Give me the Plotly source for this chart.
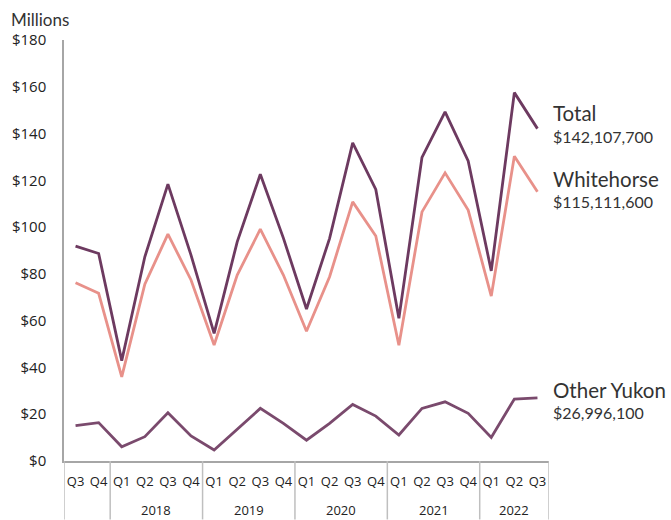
import plotly.graph_objects as go

years = ["", "", "2018", "2018", "2018", "2018", "2019", "2019", "2019", "2019",
         "2020", "2020", "2020", "2020", "2021", "2021", "2021", "2021", "2022", "2022", "2022"]
quarters = ["Q3", "Q4", "Q1", "Q2", "Q3", "Q4", "Q1", "Q2", "Q3", "Q4",
            "Q1", "Q2", "Q3", "Q4", "Q1", "Q2", "Q3", "Q4", "Q1", "Q2", "Q3"]

total = [91.9, 88.7, 42.9, 87.3, 118.4, 88.0, 54.6, 93.7, 122.6, 95.3, 65.0,
         95.2, 136.0, 116.1, 61.0, 129.8, 149.3, 128.3, 81.3, 157.5, 142.1077]
whitehorse = [76.2, 71.7, 36.0, 75.6, 97.0, 77.4, 49.6, 79.5, 99.1, 79.5, 55.5,
              78.8, 110.8, 96.2, 49.5, 106.5, 123.2, 107.3, 70.5, 130.3, 115.1116]
other_yukon = [15.1, 16.4, 6.1, 10.4, 20.6, 10.7, 4.7, 13.5, 22.5, 16.1, 8.9,
               16.1, 24.2, 19.2, 11.1, 22.5, 25.3, 20.4, 10.1, 26.5, 26.9961]

series_names = ["Total", "Whitehorse", "Other Yukon"]
series_labels = ["$142,107,700", "$115,111,600", "$26,996,100"]
colors = ["#6d3a60", "#e8918a", "#7a4a6d"]
y_ticks = [0, 20, 40, 60, 80, 100, 120, 140, 160, 180]

idx = list(range(len(quarters)))

fig = go.Figure()
for name, vals, col in zip(series_names, [total, whitehorse, other_yukon], colors):
    fig.add_trace(go.Scatter(x=idx, y=vals, mode="lines", name=name,
                             line=dict(color=col, width=2.8), showlegend=False))

L, R, T, B = 64, 122, 40, 58.5
W, H = 671, 520
ph = H - T - B

def ypaper(px):
    return (H - B - px) / ph

# year groups: boundaries and centres from the years list
groups = []
start = 0
for i in range(1, len(years) + 1):
    if i == len(years) or years[i] != years[start]:
        groups.append((years[start], start, i - 1))
        start = i

bounds = [-0.5] + [g[2] + 0.5 for g in groups]
for b in bounds:
    fig.add_shape(type="line", xref="x", yref="paper", x0=b, x1=b,
                  y0=0, y1=ypaper(H), line=dict(color="#bfbfbf", width=1.5))
for label, a, b in groups:
    if label:
        fig.add_annotation(xref="x", yref="paper", x=(a + b) / 2, y=ypaper(511),
                           xanchor="center", yanchor="middle", showarrow=False, text=label,
                           font=dict(family="Open Sans", size=13, color="#222222"))

label_pos = [(113.5, 136.5), (179.5, 201.5), (390.5, 412.5)]
for name, lab, (yn, yv) in zip(series_names, series_labels, label_pos):
    fig.add_annotation(xref="paper", yref="paper", x=1, y=ypaper(yn), xshift=2,
                       xanchor="left", yanchor="middle", showarrow=False, text=name,
                       font=dict(family="Lato", size=20.5, color="#333333"))
    fig.add_annotation(xref="paper", yref="paper", x=1, y=ypaper(yv), xshift=2,
                       xanchor="left", yanchor="middle", showarrow=False, text=lab,
                       font=dict(family="Lato", size=16, color="#333333"))

fig.add_annotation(xref="paper", yref="paper", x=0, y=1, xshift=-55, yshift=21,
                   xanchor="left", yanchor="middle", showarrow=False, text="Millions",
                   font=dict(family="Lato", size=17, color="#333333"))

fig.update_layout(
    width=W, height=H,
    margin=dict(l=L, r=R, t=T, b=B, autoexpand=False),
    plot_bgcolor="white", paper_bgcolor="white",
    xaxis=dict(range=[-0.5, len(quarters) - 0.5], tickvals=idx, ticktext=quarters,
               tickangle=0, showline=True, linecolor="#a6a6a6", linewidth=1.5,
               showgrid=False, zeroline=False, ticks="", ticklabelstandoff=8,
               tickfont=dict(family="Open Sans", size=13, color="#222222"),
               automargin=False),
    yaxis=dict(range=[0, 180], tickvals=y_ticks, ticktext=["$" + str(v) for v in y_ticks],
               showline=True, linecolor="#a6a6a6", linewidth=1.5, showgrid=False,
               zeroline=False, ticks="", ticklabelstandoff=13,
               tickfont=dict(family="Open Sans", size=15, color="#222222"),
               automargin=False),
)

fig.write_html("out.html")
